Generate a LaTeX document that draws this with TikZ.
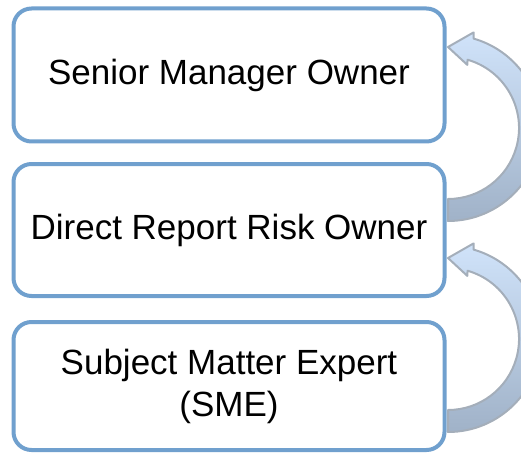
\documentclass[tikz,border=0pt]{standalone}
\usepackage{fontspec}
\setmainfont{Liberation Sans}
\usepackage{tikz}
\definecolor{boxblue}{RGB}{112,160,206}
\definecolor{arrowtop}{RGB}{208,227,250}
\definecolor{arrowbottom}{RGB}{160,178,200}
\definecolor{arrowline}{RGB}{164,174,186}
\tikzset{
	rolebox/.style = {
		shape=rectangle,
		rounded corners=18pt,
		draw=boxblue,
		line width=4pt,
		fill=white,
		align=center,
		minimum width=431pt,
		font=\fontsize{35}{42}\selectfont
	},
	liftarrow/.style = {
		draw=arrowline,
		line width=2pt,
		line join=round,
		top color=arrowtop,
		middle color=arrowtop!80!arrowbottom,
		bottom color=arrowbottom
	}
}

\begin{document}
\begin{tikzpicture}[x=1pt, y=-1pt]
	\path[use as bounding box, clip] (0,0) rectangle (521,457);
	\node[rolebox, minimum height=133pt] (senior) at (229,75) {Senior Manager Owner};
	\node[rolebox, minimum height=132pt] (direct) at (229,230) {Direct Report Risk Owner};
	\node[rolebox, minimum height=128pt] (sme) at (229,386) {Subject Matter Expert\\(SME)};
	\coordinate (lift1) at (448,128);
	\coordinate (lift2) at (448,339);
	\foreach \c in {lift1,lift2}
		\path[liftarrow, shift={(\c)}]
			(90:93) arc[start angle=90, end angle=-74, radius=93]
			-- (-75:99) -- (-90:81) -- (-73:66) -- (-74:71)
			arc[start angle=-74, end angle=90, radius=71] -- cycle;
\end{tikzpicture}
\end{document}
